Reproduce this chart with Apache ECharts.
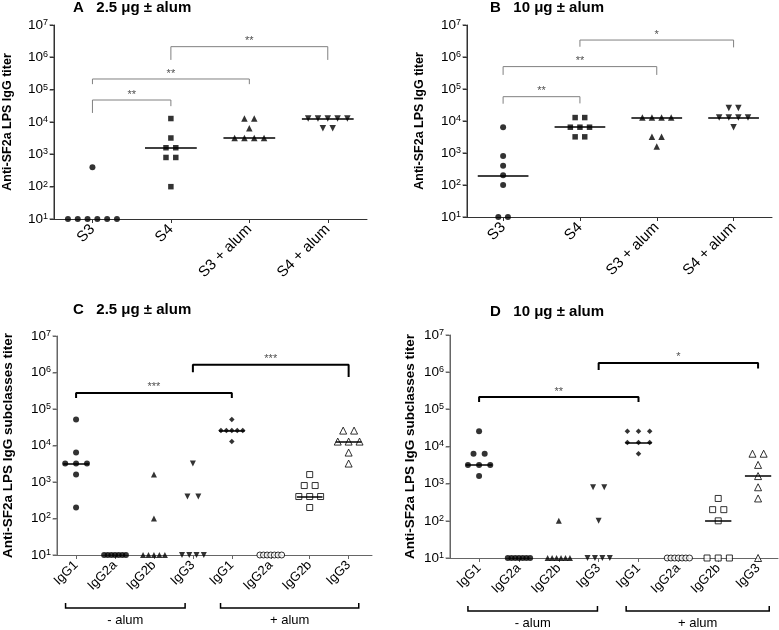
<!DOCTYPE html>
<html>
<head>
<meta charset="utf-8">
<script src="https://cdn.jsdelivr.net/npm/echarts@6/dist/echarts.min.js"></script>
<style>
html, body { margin: 0; padding: 0; background: #fff; }
#main { width: 779px; height: 630px; }
</style>
</head>
<body>
<div id="main"></div>
<script>
// categories
var catsAB = ['S3', 'S4', 'S3 + alum', 'S4 + alum'];
var catsCD = ['IgG1', 'IgG2a', 'IgG2b', 'IgG3', 'IgG1', 'IgG2a', 'IgG2b', 'IgG3'];
var decades = [10, 100, 1000, 10000, 100000, 1000000, 10000000];

// titers per mouse, one list per group
var titerA = [
    [400, 10, 10, 10, 10, 10, 10],
    [12800, 3200, 1600, 1600, 800, 800, 100],
    [12800, 12800, 6400, 3200, 3200, 3200, 3200],
    [12800, 12800, 12800, 12800, 12800, 6400, 6400]
];
var titerB = [
    [6400, 800, 400, 200, 100, 10, 10],
    [12800, 12800, 6400, 6400, 6400, 3200, 3200],
    [12800, 12800, 12800, 12800, 3200, 3200, 1600],
    [25600, 25600, 12800, 12800, 12800, 12800, 6400]
];
var titerC = [
    [51200, 6400, 3200, 3200, 3200, 1600, 200],
    [10, 10, 10, 10, 10, 10, 10],
    [1600, 100, 10, 10, 10, 10, 10],
    [3200, 400, 400, 10, 10, 10, 10],
    [51200, 25600, 25600, 25600, 25600, 25600, 12800],
    [10, 10, 10, 10, 10, 10, 10],
    [1600, 800, 800, 400, 400, 400, 200],
    [25600, 25600, 12800, 12800, 12800, 6400, 3200]
];
var titerD = [
    [25600, 6400, 6400, 3200, 3200, 3200, 1600],
    [10, 10, 10, 10, 10, 10, 10],
    [100, 10, 10, 10, 10, 10, 10],
    [800, 800, 100, 10, 10, 10, 10],
    [25600, 25600, 25600, 12800, 12800, 12800, 6400],
    [10, 10, 10, 10, 10, 10, 10],
    [400, 200, 200, 100, 10, 10, 10],
    [6400, 6400, 3200, 1600, 800, 400, 10]
];

// significance brackets: group indexes, top / feet in log10 titer
var sigA = [
    {from: 0, to: 1, text: '**', top: 4.68, feet: [4.28, 4.49]},
    {from: 0, to: 2, text: '**', top: 5.33, feet: [5.17, 5.17]},
    {from: 1, to: 3, text: '**', top: 6.33, feet: [5.92, 5.92]}
];
var sigB = [
    {from: 0, to: 1, text: '**', top: 4.76, feet: [4.54, 4.55]},
    {from: 0, to: 2, text: '**', top: 5.70, feet: [5.44, 5.44]},
    {from: 1, to: 3, text: '*', top: 6.53, feet: [6.32, 6.30]}
];
var sigC = [
    {from: 0, to: 4, text: '***', top: 5.44, feet: [5.30, 5.30]},
    {from: 3, to: 7, text: '***', top: 6.21, feet: [6.01, 5.88]}
];
var sigD = [
    {from: 0, to: 4, text: '**', top: 5.33, feet: [5.20, 5.20]},
    {from: 3, to: 7, text: '*', top: 6.25, feet: [6.06, 6.10]}
];
var alumGroups = ['- alum', '+ alum'];

var markAB = [
    {symbol: 'circle', size: 6},
    {symbol: 'rect', size: 5.5},
    {symbol: 'triangle', size: 6.5},
    {symbol: 'triangle', size: 6.5, rotate: 180}
];
var markCD = [
    {symbol: 'circle', size: 6},
    {symbol: 'circle', size: 6},
    {symbol: 'triangle', size: 6},
    {symbol: 'triangle', size: 6, rotate: 180},
    {symbol: 'diamond', size: 5.5},
    {symbol: 'circle', size: 6, open: true},
    {symbol: 'rect', size: 6, open: true},
    {symbol: 'triangle', size: 7, open: true}
];

// x positions: group i sits at i + 1 on a value axis
var panels = [
    {cats: catsAB, titers: titerA, sig: sigA, marks: markAB, title: 'A   2.5 \u03bcg \u00b1 alum',
     grid: {left: 48, top: 25, width: 319, height: 194}, xmin: 0.51, xmax: 4.5,
     step: 0.125, span: 0.63, half: 0.33, name: 'Anti-SF2a LPS IgG titer', nameSize: 12.5, nameGap: 40,
     labelSize: 15, axisColor: '#333', sigColor: '#808080', sigWidth: 1, titlePos: [73, 0]},
    {cats: catsAB, titers: titerB, sig: sigB, marks: markAB, title: 'B   10 \u03bcg \u00b1 alum',
     grid: {left: 467, top: 25, width: 305, height: 192}, xmin: 0.53, xmax: 4.5,
     step: 0.125, span: 0.63, half: 0.33, name: 'Anti-SF2a LPS IgG titer', nameSize: 12.5, nameGap: 41,
     labelSize: 15, axisColor: '#333', sigColor: '#808080', sigWidth: 1, titlePos: [490, 0]},
    {cats: catsCD, titers: titerC, sig: sigC, marks: markCD, title: 'C   2.5 \u03bcg \u00b1 alum',
     grid: {left: 48, top: 336, width: 324, height: 219}, xmin: 0.51, xmax: 8.6,
     step: 0.28, span: 0.56, half: 0.33, name: 'Anti-SF2a LPS IgG subclasses titer', nameSize: 13.5, nameGap: 42,
     labelSize: 13, axisColor: '#666', sigColor: '#000', sigWidth: 2, titlePos: [73, 302],
     alum: [[0.73, 3.8], [4.71, 8.26]]},
    {cats: catsCD, titers: titerD, sig: sigD, marks: markCD, title: 'D   10 \u03bcg \u00b1 alum',
     grid: {left: 450, top: 335, width: 328, height: 223}, xmin: 0.27, xmax: 8.5,
     step: 0.28, span: 0.56, half: 0.33, name: 'Anti-SF2a LPS IgG subclasses titer', nameSize: 13.5, nameGap: 33,
     labelSize: 13, axisColor: '#666', sigColor: '#000', sigWidth: 2, titlePos: [490, 304],
     alum: [[0.72, 3.97], [4.69, 8.28]]}
];

function median(arr) {
    var s = arr.slice().sort(function (a, b) { return a - b; });
    var m = Math.floor(s.length / 2);
    return s.length % 2 ? s[m] : Math.sqrt(s[m - 1] * s[m]);
}

// spread equal values side by side around the group centre
function spread(vals, cx, step, span) {
    var counts = {};
    vals.forEach(function (v) { counts[v] = (counts[v] || 0) + 1; });
    var seen = {};
    return vals.map(function (v) {
        var n = counts[v];
        var k = seen[v] || 0;
        seen[v] = k + 1;
        var d = n > 1 ? Math.min(step, span / (n - 1)) : 0;
        return [cx + (k - (n - 1) / 2) * d, v];
    });
}

var grids = [], xAxes = [], yAxes = [], series = [], titles = [];
var ticks = function (n) { var a = []; for (var i = 1; i <= n; i++) a.push(i); return a; };

panels.forEach(function (p, pi) {
    grids.push({left: p.grid.left, top: p.grid.top, width: p.grid.width, height: p.grid.height, containLabel: false});
    titles.push({text: p.title, left: p.titlePos[0], top: p.titlePos[1], padding: 0,
        textStyle: {fontSize: 15, fontWeight: 'bold', color: '#000', fontFamily: 'Liberation Sans'}});
    var cats = p.cats;
    xAxes.push({
        type: 'value', gridIndex: pi, min: p.xmin, max: p.xmax,
        splitLine: {show: false},
        axisLine: {show: true, onZero: false, lineStyle: {color: p.axisColor, width: 1}},
        axisTick: {show: true, length: 4, customValues: ticks(cats.length), lineStyle: {color: p.axisColor}},
        axisLabel: {customValues: ticks(cats.length), rotate: 45, margin: 8, fontSize: p.labelSize, color: '#000',
            formatter: function (v) { return cats[Math.round(v) - 1]; }}
    });
    yAxes.push({
        type: 'log', logBase: 10, gridIndex: pi, min: 10, max: 1e7, position: 'left',
        name: p.name, nameLocation: 'middle', nameGap: p.nameGap, nameRotate: 90,
        nameTextStyle: {fontSize: p.nameSize, fontWeight: 'bold', color: '#000'},
        splitLine: {show: false},
        axisLine: {show: true, lineStyle: {color: p.axisColor, width: 1}},
        axisTick: {show: true, length: 4, lineStyle: {color: p.axisColor}},
        axisLabel: {margin: 6,
            formatter: function (v) { return '{b|10}{s|' + Math.round(Math.log10(v)) + '}'; },
            rich: {
                b: {fontSize: 13.5, color: '#000', verticalAlign: 'bottom'},
                s: {fontSize: 9, color: '#000', verticalAlign: 'top'}
            }},
        interval: 1
    });

    p.titers.forEach(function (vals, ci) {
        var mk = p.marks[ci];
        var med = median(vals);
        var cx = ci + 1;
        var s = {
            type: 'scatter', xAxisIndex: pi, yAxisIndex: pi, clip: false, silent: true,
            symbol: mk.symbol, symbolSize: mk.size, symbolRotate: mk.rotate || 0,
            itemStyle: mk.open ? {color: '#fff', borderColor: '#000', borderWidth: 1} : {color: '#000'},
            data: spread(vals, cx, p.step, p.span),
            z: 3
        };
        if (med > 10) {
            s.markLine = {
                silent: true, symbol: ['none', 'none'], label: {show: false}, animation: false,
                lineStyle: {color: '#000', width: 1.5, type: 'solid'},
                data: [[{coord: [cx - p.half, med]}, {coord: [cx + p.half, med]}]]
            };
        }
        series.push(s);
    });

    p.sig.forEach(function (b) {
        var x1 = b.from + 1, x2 = b.to + 1;
        series.push({
            type: 'line', xAxisIndex: pi, yAxisIndex: pi, silent: true, showSymbol: false,
            symbol: 'none', animation: false,
            lineStyle: {color: p.sigColor, width: p.sigWidth},
            data: [[x1, Math.pow(10, b.feet[0])], [x1, Math.pow(10, b.top)],
                   [x2, Math.pow(10, b.top)], [x2, Math.pow(10, b.feet[1])]]
        });
        series.push({
            type: 'scatter', xAxisIndex: pi, yAxisIndex: pi, silent: true, symbolSize: 0,
            label: {show: true, position: 'top', distance: 0, fontSize: 11, color: '#222',
                formatter: b.text},
            data: [[(x1 + x2) / 2, Math.pow(10, b.top)]]
        });
    });
});

var myChart = echarts.init(document.getElementById('main'), null, {renderer: 'canvas'});
myChart.setOption({
    animation: false,
    backgroundColor: '#fff',
    textStyle: {fontFamily: 'Liberation Sans, Arial, sans-serif'},
    title: titles,
    grid: grids,
    xAxis: xAxes,
    yAxis: yAxes,
    series: series
});

var extra = [];
panels.forEach(function (p, pi) {
    var toPx = function (x, y) { return myChart.convertToPixel({xAxisIndex: pi, yAxisIndex: pi}, [x, y]); };
    // left spine and decade ticks, as thin filled rects on a top layer
    var lo = toPx(p.xmin, 10), hi = toPx(p.xmin, 1e7);
    var ax = Math.round(lo[0]);
    extra.push({
        type: 'rect', silent: true, z: 100, zlevel: 2,
        shape: {x: ax - 0.5, y: hi[1], width: 1.2, height: lo[1] - hi[1] + 0.5},
        style: {fill: p.axisColor}
    });
    decades.forEach(function (d) {
        var t = Math.round(toPx(p.xmin, d)[1]);
        extra.push({
            type: 'rect', silent: true, z: 100, zlevel: 2,
            shape: {x: ax - 4.5, y: t - 0.5, width: 4, height: 1},
            style: {fill: p.axisColor}
        });
    });
    // - alum / + alum brackets under panels C and D
    if (!p.alum) return;
    p.alum.forEach(function (rng, gi) {
        var a = toPx(rng[0], 10);
        var b = toPx(rng[1], 10);
        var y = a[1] + 53;
        extra.push({
            type: 'polyline', silent: true,
            shape: {points: [[a[0], y - 5], [a[0], y], [b[0], y], [b[0], y - 5]]},
            style: {stroke: '#000', lineWidth: 1.5, fill: null}
        });
        extra.push({
            type: 'text', silent: true,
            style: {text: alumGroups[gi], x: (a[0] + b[0]) / 2, y: y + 12,
                fill: '#000', font: '13px Liberation Sans',
                textAlign: 'center', align: 'center', textVerticalAlign: 'middle', verticalAlign: 'middle'}
        });
    });
});
myChart.setOption({graphic: extra});
</script>
</body>
</html>
